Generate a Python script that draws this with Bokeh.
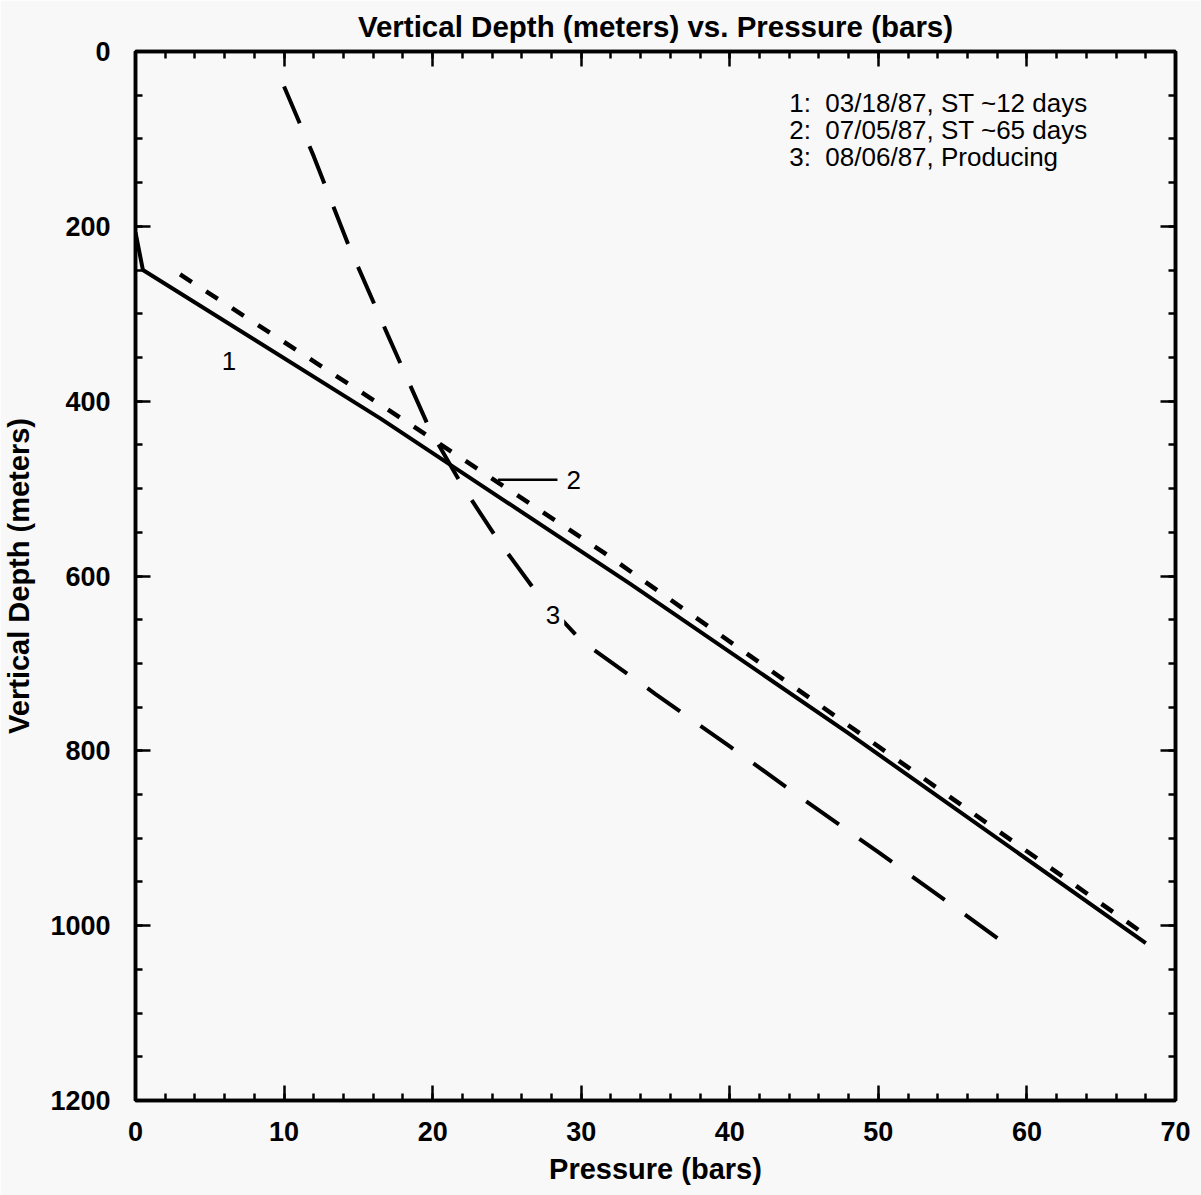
from bokeh.plotting import figure
from bokeh.models import Range1d, LinearAxis, Label, SingleIntervalTicker
from bokeh.embed import file_html
from bokeh.resources import INLINE

# ---- data (pressure in bars, vertical depth in meters) ----
curve1_pressure = [0.0, 0.5, 16.5, 33.3, 48.0, 68.0]
curve1_depth = [207, 250, 420, 609, 780, 1020]

curve2_pressure = [3.0, 17.3, 31.5, 48.0, 67.6]
curve2_depth = [255, 413, 573, 771, 1006]

curve3_pressure = [10.0, 12.0, 14.3, 17.0, 19.8, 22.0, 24.4, 27.0, 30.0, 35.0, 40.0, 45.0, 50.0, 55.0, 58.4]
curve3_depth = [40, 120, 220, 325, 432, 497, 559, 619, 674, 735, 795, 856, 916, 977, 1019]

legend_lines = ["1:\u00a0 03/18/87, ST ~12 days", "2:\u00a0 07/05/87, ST ~65 days", "3:\u00a0 08/06/87, Producing"]
legend_x = 44.0
legend_depths = [59, 90, 121]

curve_labels = ["1", "2", "3"]
curve_label_x = [6.3, 29.5, 28.1]
curve_label_y = [354, 490, 645]
leader2_x = [24.4, 28.4]
leader2_y = [490, 490]

x_ticks_interval = 10
y_ticks_interval = 200

FONT = "Liberation Sans"
BG = "#f8f8f8"

p = figure(width=1201, height=1195, output_backend="svg", toolbar_location=None,
           x_range=Range1d(0, 70), y_range=Range1d(1200, 0),
           min_border_left=135, min_border_right=26, min_border_top=51, min_border_bottom=95,
           background_fill_color=BG, border_fill_color=BG)

p.title.text = "Vertical Depth (meters) vs. Pressure (bars)"
p.title.align = "center"
p.title.vertical_align = "top"
p.title.text_font = FONT
p.title.text_font_size = "29.5px"
p.title.text_font_style = "bold"
p.title.text_color = "black"
p.title.standoff = 13

p.xgrid.visible = False
p.ygrid.visible = False
p.outline_line_color = "black"
p.outline_line_width = 3.5


def style_axis(ax, label_size):
    ax.major_tick_in = 15
    ax.major_tick_out = 0
    ax.minor_tick_in = 7
    ax.minor_tick_out = 0
    ax.axis_line_width = 3.5
    ax.axis_line_color = "black"
    ax.major_tick_line_width = 2.5
    ax.minor_tick_line_width = 2.5
    ax.major_tick_line_color = "black"
    ax.minor_tick_line_color = "black"
    ax.major_label_text_font = FONT
    ax.major_label_text_font_style = "bold"
    ax.major_label_text_font_size = label_size
    ax.major_label_text_color = "black"
    ax.axis_label_text_color = "black"


xt = SingleIntervalTicker(interval=x_ticks_interval, num_minor_ticks=5)
yt = SingleIntervalTicker(interval=y_ticks_interval, num_minor_ticks=4)

xa = p.xaxis[0]
xa.ticker = xt
style_axis(xa, "27px")
xa.major_label_standoff = 21
xa.axis_label = "Pressure (bars)"
xa.axis_label_text_font = FONT
xa.axis_label_text_font_size = "29px"
xa.axis_label_text_font_style = "bold"
xa.axis_label_standoff = 9

ya = p.yaxis[0]
ya.ticker = yt
style_axis(ya, "27px")
ya.major_label_standoff = 25
ya.axis_label = "Vertical Depth (meters)"
ya.axis_label_text_font = FONT
ya.axis_label_text_font_size = "29px"
ya.axis_label_text_font_style = "bold"
ya.axis_label_standoff = 12

top = LinearAxis(ticker=SingleIntervalTicker(interval=x_ticks_interval, num_minor_ticks=5))
style_axis(top, "1px")
top.major_label_text_color = None
top.major_label_standoff = 0
p.add_layout(top, "above")

right = LinearAxis(ticker=SingleIntervalTicker(interval=y_ticks_interval, num_minor_ticks=4))
style_axis(right, "1px")
right.major_label_text_color = None
right.major_label_standoff = 0
p.add_layout(right, "right")

# ---- curves ----
p.line(curve1_pressure, curve1_depth, line_color="black", line_width=4)
p.line(curve2_pressure, curve2_depth, line_color="black", line_width=4.5, line_dash="14 17")
p.line(curve3_pressure, curve3_depth, line_color="black", line_width=4, line_dash="40 25")
p.line(leader2_x, leader2_y, line_color="black", line_width=2.5)

for t, x, y in zip(curve_labels, curve_label_x, curve_label_y):
    p.add_layout(Label(x=x, y=y, text=t, text_font=FONT, text_font_size="26px",
                       text_align="center", text_baseline="middle", text_color="black",
                       background_fill_color=BG, padding=4))

for t, y in zip(legend_lines, legend_depths):
    p.add_layout(Label(x=legend_x, y=y, text=t, text_font=FONT, text_font_size="26px",
                       text_align="left", text_baseline="middle", text_color="black"))

open("out.html", "w").write(file_html(p, INLINE))
